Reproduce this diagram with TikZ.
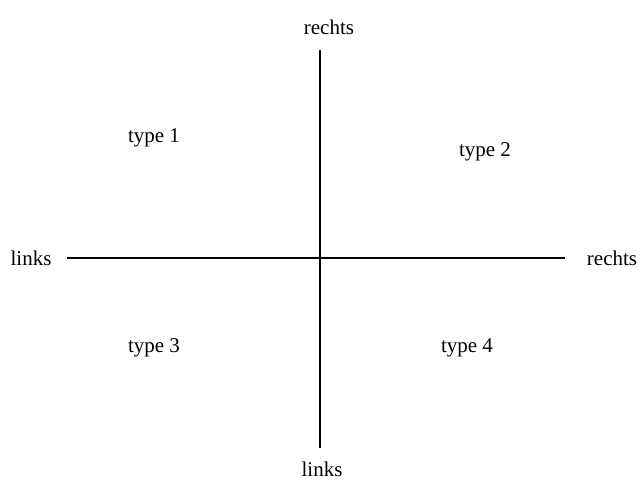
\documentclass[tikz,border=0pt]{standalone}
\usepackage{fontspec}
\setmainfont{Liberation Serif}
\begin{document}
\begin{tikzpicture}[x=1pt,y=-1pt,
  lbl/.style={font=\fontsize{21}{25}\selectfont, inner sep=0pt},
  axis/.style={line width=2pt}]
\useasboundingbox (0,0) rectangle (640,480);
\coordinate (top) at (320,50);
\coordinate (bot) at (320,448);
\coordinate (lft) at (67,258);
\coordinate (rgt) at (565,258);
\draw[axis] (top) -- (bot);
\draw[axis] (lft) -- (rgt);
\node[lbl] (tr) at (329,27) {rechts};
\node[lbl] (bl) at (322,469) {links};
\node[lbl] (ll) at (31,258) {links};
\node[lbl] (rr) at (612,258) {rechts};
\node[lbl] (t1) at (154,138) {type 1};
\node[lbl] (t2) at (485,152) {type 2};
\node[lbl] (t3) at (154,348) {type 3};
\node[lbl] (t4) at (467,348) {type 4};
\end{tikzpicture}
\end{document}
